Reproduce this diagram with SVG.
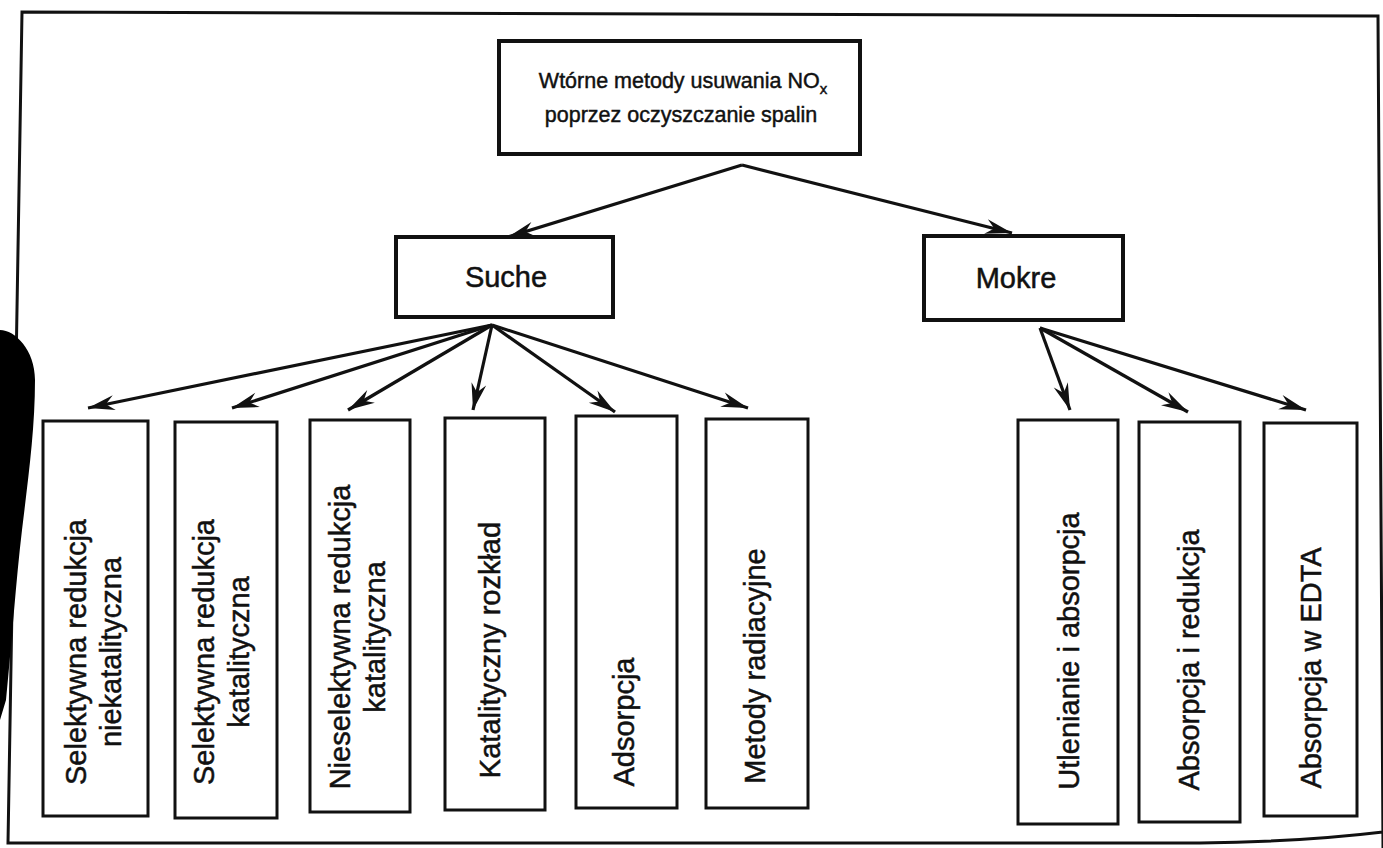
<svg xmlns="http://www.w3.org/2000/svg" width="1383" height="848" viewBox="0 0 1383 848">
  <style>
    .frame { fill: none; stroke: #111; stroke-width: 3; }
    .box { fill: #fff; stroke: #111; stroke-width: 3; }
    .box-main { fill: #fff; stroke: #111; stroke-width: 4; }
    .lbl { font-family: "Liberation Sans", Arial, sans-serif; font-size: 29px; fill: #111; stroke: #111; stroke-width: 0.5; text-anchor: middle; }
    .title { font-family: "Liberation Sans", Arial, sans-serif; font-size: 21.5px; fill: #111; stroke: #111; stroke-width: 0.45; text-anchor: middle; }
    .edge { fill: none; stroke: #111; stroke-width: 3.2; marker-end: url(#arrow); }
  </style>
  <defs>
    <marker id="arrow" markerUnits="userSpaceOnUse" markerWidth="30" markerHeight="20" viewBox="-26 -8 28 16" refX="0" refY="0" orient="auto">
      <path d="M0,0 L-25,-7 L-17,0 L-25,7 Z" fill="#111"/>
    </marker>
  </defs>

  <rect width="1383" height="848" fill="#fff"/>

  <!-- outer frame -->
  <path class="frame" d="M1383,832 Q1300,842 1200,843 L8,843 L22,12 L1378,16 L1383,848"/>

  <!-- dark shadow along the left margin -->
  <path d="M0,330 C15,330 35,350 35,380 C35,430 28,480 22,530 C16,580 12,640 6,700 L0,720 Z" fill="#000"/>

  <g id="connectors">
    <line class="edge" x1="742" y1="165" x2="508" y2="237"/>
    <line class="edge" x1="742" y1="165" x2="1012" y2="233"/>
    <line class="edge" x1="492" y1="325" x2="88" y2="408"/>
    <line class="edge" x1="492" y1="325" x2="232" y2="408"/>
    <line class="edge" x1="492" y1="325" x2="348" y2="410"/>
    <line class="edge" x1="492" y1="325" x2="473" y2="410"/>
    <line class="edge" x1="492" y1="325" x2="615" y2="412"/>
    <line class="edge" x1="492" y1="325" x2="748" y2="408"/>
    <line class="edge" x1="1040" y1="328" x2="1070" y2="410"/>
    <line class="edge" x1="1040" y1="328" x2="1188" y2="412"/>
    <line class="edge" x1="1040" y1="328" x2="1306" y2="410"/>
  </g>

  <g id="root">
    <rect class="box-main" x="499" y="41" width="361" height="113"/>
    <text class="title" x="683" y="88">Wtórne metody usuwania NO<tspan font-size="15" dy="6">x</tspan></text>
    <text class="title" x="681" y="122">poprzez oczyszczanie spalin</text>
  </g>

  <g id="suche">
    <rect class="box-main" x="396" y="237" width="217" height="80"/>
    <text class="lbl" x="506" y="287">Suche</text>
  </g>

  <g id="mokre">
    <rect class="box-main" x="924" y="236" width="199" height="84"/>
    <text class="lbl" x="1016" y="288">Mokre</text>
  </g>

  <g id="sel-niekat">
    <rect class="box" x="43" y="421" width="105" height="395"/>
    <text class="lbl" transform="translate(86,652) rotate(-90)">Selektywna redukcja</text>
    <text class="lbl" transform="translate(121,652) rotate(-90)">niekatalityczna</text>
  </g>

  <g id="sel-kat">
    <rect class="box" x="175" y="422" width="102" height="396"/>
    <text class="lbl" transform="translate(214,652) rotate(-90)">Selektywna redukcja</text>
    <text class="lbl" transform="translate(249,652) rotate(-90)">katalityczna</text>
  </g>

  <g id="nieselektywna">
    <rect class="box" x="310" y="420" width="100" height="392"/>
    <text class="lbl" transform="translate(350,637) rotate(-90)">Nieselektywna redukcja</text>
    <text class="lbl" transform="translate(385,637) rotate(-90)">katalityczna</text>
  </g>

  <g id="rozklad">
    <rect class="box" x="445" y="418" width="100" height="392"/>
    <text class="lbl" transform="translate(500,650) rotate(-90)">Katalityczny rozkład</text>
  </g>

  <g id="adsorpcja">
    <rect class="box" x="576" y="416" width="101" height="392"/>
    <text class="lbl" transform="translate(634,722) rotate(-90)">Adsorpcja</text>
  </g>

  <g id="radiacyjne">
    <rect class="box" x="706" y="419" width="102" height="389"/>
    <text class="lbl" transform="translate(765,666) rotate(-90)">Metody radiacyjne</text>
  </g>

  <g id="utlenianie">
    <rect class="box" x="1018" y="420" width="100" height="404"/>
    <text class="lbl" transform="translate(1079,651) rotate(-90)">Utlenianie i absorpcja</text>
  </g>

  <g id="abs-red">
    <rect class="box" x="1139" y="422" width="101" height="400"/>
    <text class="lbl" transform="translate(1199,660) rotate(-90)">Absorpcja i redukcja</text>
  </g>

  <g id="edta">
    <rect class="box" x="1264" y="423" width="93" height="393"/>
    <text class="lbl" transform="translate(1321,668) rotate(-90)">Absorpcja w EDTA</text>
  </g>
</svg>
